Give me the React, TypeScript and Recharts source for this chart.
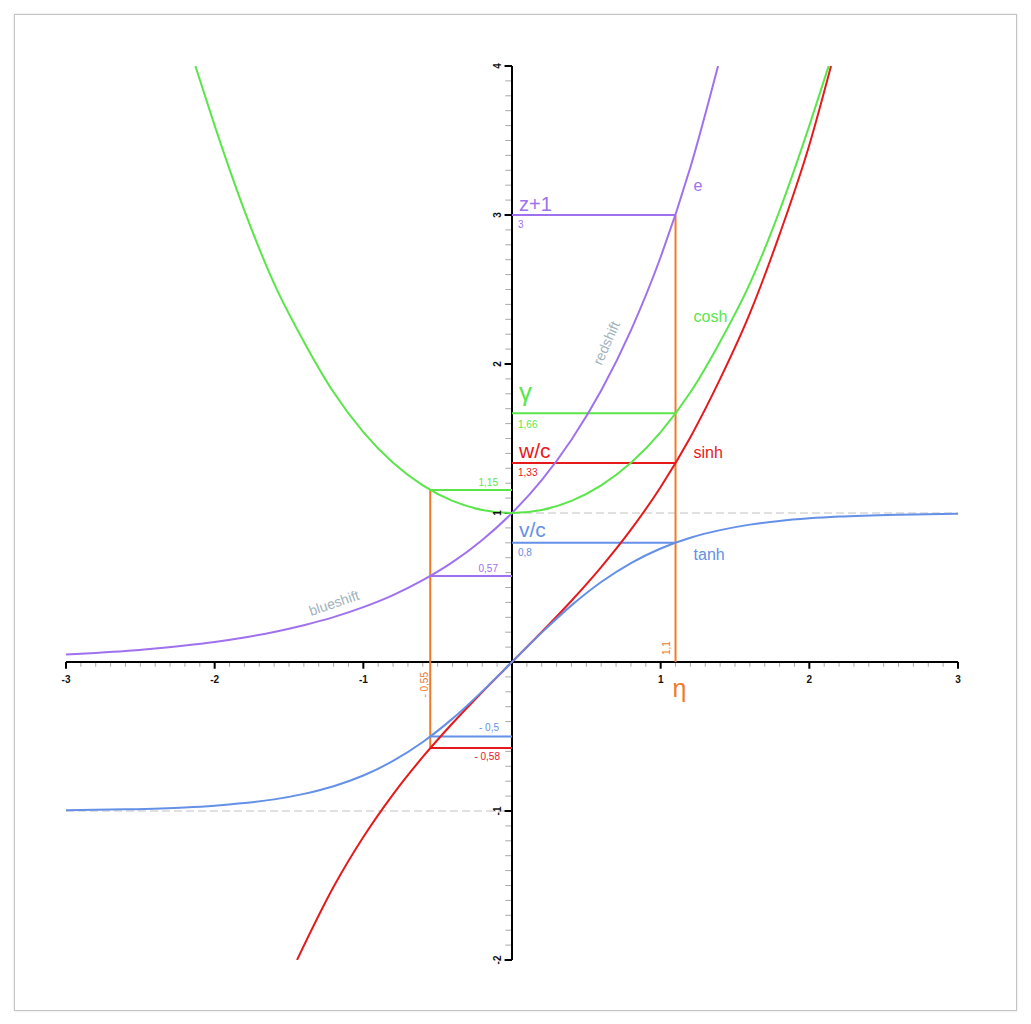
import React from "react"
import { ComposedChart, Line, XAxis, YAxis, ReferenceLine, ReferenceDot } from "recharts"

const FONT = "'Liberation Sans', Arial, Helvetica, sans-serif"

const PURPLE = "#a071ee"
const GREEN = "#5ae64a"
const RED = "#e6191c"
const BLUE = "#6490e8"
const ORANGE = "#f07a28"
const NOTE = "#9fb3bc"

// curve samples, rapidity -> value
const expEta = [-3, -2.8, -2.6, -2.4, -2.2, -2, -1.8, -1.6, -1.4, -1.2, -1, -0.8, -0.6, -0.4, -0.2, 0, 0.2, 0.4, 0.6, 0.8, 1, 1.2, 1.386]
const expVal = [0.05, 0.061, 0.074, 0.091, 0.111, 0.135, 0.165, 0.202, 0.247, 0.301, 0.368, 0.449, 0.549, 0.67, 0.819, 1, 1.221, 1.492, 1.822, 2.226, 2.718, 3.32, 4]

const coshEta = [-2.13, -2, -1.8, -1.6, -1.4, -1.2, -1, -0.8, -0.6, -0.4, -0.2, 0, 0.2, 0.4, 0.6, 0.8, 1, 1.2, 1.4, 1.6, 1.8, 2, 2.13]
const coshVal = [4, 3.6, 3.03, 2.54, 2.15, 1.81, 1.543, 1.337, 1.185, 1.081, 1.02, 1, 1.02, 1.081, 1.185, 1.337, 1.543, 1.81, 2.15, 2.54, 3.03, 3.6, 4]

const sinhEta = [-1.446, -1.2, -1, -0.8, -0.6, -0.4, -0.2, 0, 0.2, 0.4, 0.6, 0.8, 1, 1.2, 1.4, 1.6, 1.8, 2, 2.146]
const sinhVal = [-2, -1.509, -1.175, -0.888, -0.637, -0.411, -0.201, 0, 0.201, 0.411, 0.637, 0.888, 1.175, 1.509, 1.9, 2.34, 2.87, 3.47, 4]

const tanhEta = [-3, -2.6, -2.2, -2, -1.8, -1.6, -1.4, -1.2, -1, -0.8, -0.6, -0.4, -0.2, 0, 0.2, 0.4, 0.6, 0.8, 1, 1.2, 1.4, 1.6, 1.8, 2, 2.2, 2.6, 3]
const tanhVal = [-0.995, -0.989, -0.976, -0.964, -0.947, -0.922, -0.885, -0.834, -0.762, -0.664, -0.537, -0.38, -0.197, 0, 0.197, 0.38, 0.537, 0.664, 0.762, 0.834, 0.885, 0.922, 0.947, 0.964, 0.976, 0.989, 0.995]

// the two rapidities picked out by the orange drop lines
const etaRight = 1.1
const etaLeft = -0.55
// where the drop lines meet e, cosh, sinh, tanh
const rightHits = [3.0, 1.67, 1.336, 0.8]
const leftHits = [0.577, 1.155, -0.578, -0.5]
const rightHitLabels = ["3", "1,66", "1,33", "0,8"]
const leftHitLabels = ["0,57", "1,15", "- 0,58", "- 0,5"]
const quantityNames = ["z+1", "γ", "w/c", "v/c"]
const curveNames = ["e", "cosh", "sinh", "tanh"]

const xMajor = [-3, -2, -1, 1, 2, 3]
const xTickLabels = ["-3", "-2", "-1", "1", "2", "3"]
const yMajor = [-2, -1, 1, 2, 3, 4]
const yTickLabels = ["-2", "-1", "1", "2", "3", "4"]

const colors = [PURPLE, GREEN, RED, BLUE]
const nameSize = [20, 26, 21, 21]
const nameDy = [-4.5, -12, -5, -6]
const hitDy = [12.5, 14.7, 13, 13]
const leftDx = [-14, -14, -12, -13]
const leftDy = [-4, -4, 12, -5.5]
const curveDy = [-23.7, -91.3, -5, 17.2]

const toPts = (xs: number[], ys: number[]) => xs.map((x, i) => ({ x, y: ys[i] }))

const minor = (from: number, to: number) => {
  const out: number[] = []
  for (let i = Math.round(from * 10); i <= Math.round(to * 10); i++) {
    if (i % 10 !== 0) out.push(i / 10)
  }
  return out
}

type NoteOpts = {
  dx?: number
  dy?: number
  size?: number
  color: string
  anchor?: "start" | "middle" | "end"
  angle?: number
  center?: boolean
  bold?: boolean
}

const note = (text: string, o: NoteOpts) => (p: any) => {
  const vb = p.viewBox || {}
  const x = (vb.x ?? 0) + (o.dx ?? 0)
  const y = (vb.y ?? 0) + (o.dy ?? 0)
  return (
    <text
      x={x}
      y={y}
      dy={o.center ? "0.35em" : undefined}
      fill={o.color}
      fontSize={o.size ?? 10}
      fontWeight={o.bold ? "bold" : undefined}
      fontFamily={FONT}
      textAnchor={o.anchor ?? "start"}
      transform={o.angle ? `rotate(${o.angle} ${x} ${y})` : undefined}
    >
      {text}
    </text>
  )
}

const dot = (key: string, x: number, y: number, label: any) => (
  <ReferenceDot key={key} x={x} y={y} r={0} fill="none" stroke="none" ifOverflow="visible" label={label} />
)

const seg = (key: string, x1: number, y1: number, x2: number, y2: number, stroke: string, width = 2, dash?: string) => (
  <ReferenceLine
    key={key}
    segment={[{ x: x1, y: y1 }, { x: x2, y: y2 }]}
    stroke={stroke}
    strokeWidth={width}
    strokeDasharray={dash}
    ifOverflow="visible"
  />
)

export default function App() {
  const series = [
    toPts(expEta, expVal),
    toPts(coshEta, coshVal),
    toPts(sinhEta, sinhVal),
    toPts(tanhEta, tanhVal),
  ]

  return (
    <div style={{ position: "absolute", left: 0, top: 0, width: 1031, height: 1024, background: "#fff" }}>
      <div
        style={{
          position: "absolute",
          left: 14,
          top: 14,
          width: 1001,
          height: 995,
          border: "1px solid #c4c4c4",
          boxShadow: "0 0 2px rgba(0,0,0,0.15)",
        }}
      />
      <div style={{ position: "absolute", left: 0, top: 0 }}>
        <ComposedChart width={1031} height={1024} margin={{ top: 66, right: 73, bottom: 64, left: 66 }}>
          <XAxis type="number" dataKey="x" domain={[-3, 3]} hide allowDataOverflow />
          <YAxis type="number" domain={[-2, 4]} hide allowDataOverflow />

          {/* asymptotes of tanh */}
          {seg("as1", 0, 1, 3, 1, "#c2c2c2", 1, "8 4")}
          {seg("as2", -3, -1, 0, -1, "#c2c2c2", 1, "8 4")}

          {/* minor ticks */}
          {minor(-3, 3).map((t) => seg(`xm${t}`, t, 0, t, -0.032, "#a8a8a8", 1))}
          {minor(-2, 4).map((t) => seg(`ym${t}`, -0.045, t, 0, t, "#a8a8a8", 1))}

          {/* axes */}
          {seg("xaxis", -3, 0, 3, 0, "#000", 2)}
          {seg("yaxis", 0, -2, 0, 4, "#000", 2)}
          {xMajor.map((t) => seg(`xM${t}`, t, 0, t, -0.045, "#000", 2))}
          {yMajor.map((t) => seg(`yM${t}`, -0.05, t, 0, t, "#000", 2))}
          {xMajor.map((t, i) =>
            dot(`xl${t}`, t, 0, note(xTickLabels[i], { dy: 21, color: "#111", anchor: "middle", bold: true }))
          )}
          {yMajor.map((t, i) =>
            dot(`yl${t}`, 0, t, note(yTickLabels[i], { dx: -15, color: "#111", anchor: "middle", angle: -90, center: true, bold: true }))
          )}

          {/* drop lines */}
          {seg("dr", etaRight, 0, etaRight, rightHits[0], ORANGE, 2)}
          {seg("dl", etaLeft, leftHits[1], etaLeft, leftHits[2], ORANGE, 2)}
          {rightHits.map((v, i) => seg(`hr${i}`, 0, v, etaRight, v, colors[i], 2))}
          {leftHits.map((v, i) => seg(`hl${i}`, etaLeft, v, 0, v, colors[i], 2))}

          {series.map((d, i) => (
            <Line
              key={curveNames[i]}
              data={d}
              dataKey="y"
              type="monotone"
              stroke={colors[i]}
              strokeWidth={2}
              dot={false}
              activeDot={false}
              isAnimationActive={false}
            />
          ))}

          {/* annotations */}
          {rightHits.map((v, i) => dot(`qn${i}`, 0, v, note(quantityNames[i], { dx: 7, dy: nameDy[i], size: nameSize[i], color: colors[i] })))}
          {rightHits.map((v, i) => dot(`qv${i}`, 0, v, note(rightHitLabels[i], { dx: 6, dy: hitDy[i], color: colors[i] })))}
          {rightHits.map((v, i) => dot(`cn${i}`, etaRight, v, note(curveNames[i], { dx: 18, dy: curveDy[i], size: 16, color: colors[i] })))}
          {leftHits.map((v, i) =>
            dot(`lv${i}`, 0, v, note(leftHitLabels[i], { dx: leftDx[i], dy: leftDy[i], color: colors[i], anchor: "end" }))
          )}
          {dot("eta", etaRight, 0, note("η", { dx: -3, dy: 35, size: 25, color: ORANGE }))}
          {dot("etaR", etaRight, 0, note("1,1", { dx: -9.5, dy: -7, color: ORANGE, angle: -90, center: true }))}
          {dot("etaL", etaLeft, 0, note("- 0,55", { dx: -6, dy: 10, color: ORANGE, anchor: "end", angle: -90, center: true }))}
          {dot("red", 0.634, 2.141, note("redshift", { size: 14, color: NOTE, anchor: "middle", angle: -66, center: true }))}
          {dot("blue", -1.197, 0.396, note("blueshift", { size: 14, color: NOTE, anchor: "middle", angle: -19, center: true }))}
        </ComposedChart>
      </div>
    </div>
  )
}
